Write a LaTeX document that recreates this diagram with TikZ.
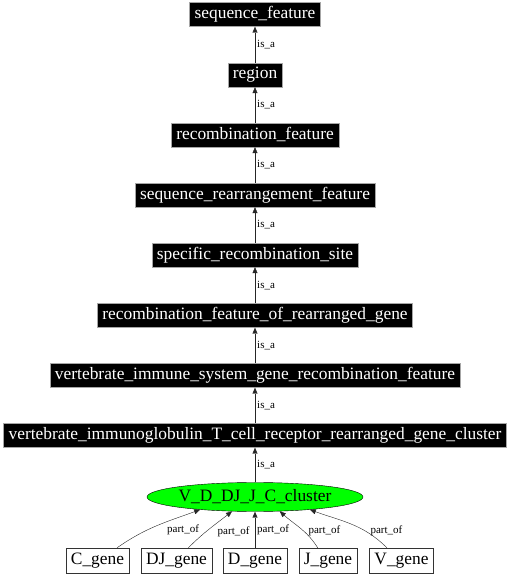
\documentclass[tikz,border=0pt]{standalone}
\usepackage{fontspec}
\setmainfont{Liberation Serif}
\usetikzlibrary{positioning,shapes.geometric,arrows.meta}
\tikzset{term/.style = {fill=black,text=white,draw=gray!70,minimum height=24pt,inner xsep=5pt,inner ysep=0pt,font=\fontsize{17.4}{20}\selectfont},
         gene/.style = {draw=black!80,fill=white,minimum height=25pt,inner xsep=5pt,inner ysep=0pt,font=\fontsize{17.4}{20}\selectfont},
         rel/.style = {draw=black!85,-{Triangle[length=6pt,width=5pt]}},
         lbl/.style = {font=\fontsize{11}{13}\selectfont,inner sep=1pt}}

\begin{document}
\begin{tikzpicture}[x=1pt,y=1pt]
        \useasboundingbox (0,0) rectangle (510,576);
        \node [term] (seqf) at (255,561.5) {sequence\_feature};
        \node [term] (region) at (255,501) {region};
        \node [term] (recf) at (255,441) {recombination\_feature};
        \node [term] (srf) at (255,381) {sequence\_rearrangement\_feature};
        \node [term] (srs) at (255,321) {specific\_recombination\_site};
        \node [term] (rfrg) at (255,260.5) {recombination\_feature\_of\_rearranged\_gene};
        \node [term] (visgrf) at (255,200.5) {vertebrate\_immune\_system\_gene\_recombination\_feature};
        \node [term] (vitcr) at (255,140.5) {vertebrate\_immunoglobulin\_T\_cell\_receptor\_rearranged\_gene\_cluster};
        \node [draw,ellipse,fill=green,minimum width=214pt,minimum height=29pt,inner sep=0pt,font=\fontsize{17.4}{20}\selectfont] (vdj) at (255,79) {V\_D\_DJ\_J\_C\_cluster};
        \node [gene] (cg) at (97.5,15.5) {C\_gene};
        \node [gene] (djg) at (176.5,15.5) {DJ\_gene};
        \node [gene] (dg) at (255,15.5) {D\_gene};
        \node [gene] (jg) at (328,15.5) {J\_gene};
        \node [gene] (vg) at (401.5,15.5) {V\_gene};
        % is_a chain
        \draw [rel] (region) -- node [lbl,right=1pt] {is\_a} (seqf);
        \draw [rel] (recf) -- node [lbl,right=1pt] {is\_a} (region);
        \draw [rel] (srf) -- node [lbl,right=1pt] {is\_a} (recf);
        \draw [rel] (srs) -- node [lbl,right=1pt] {is\_a} (srf);
        \draw [rel] (rfrg) -- node [lbl,right=1pt] {is\_a} (srs);
        \draw [rel] (visgrf) -- node [lbl,right=1pt] {is\_a} (rfrg);
        \draw [rel] (vitcr) -- node [lbl,right=1pt] {is\_a} (visgrf);
        \draw [rel] (vdj) -- node [lbl,right=1pt] {is\_a} (vitcr);
        % part_of
        \draw [rel] (cg.33) to[out=35,in=200] node [lbl,right=9pt,yshift=-4pt] {part\_of} (vdj.193);
        \draw [rel] (djg.47) to[out=45,in=218] node [lbl,right=7pt,yshift=-3pt] {part\_of} (vdj.212);
        \draw [rel] (dg) -- node [lbl,right=1pt] {part\_of} (vdj);
        \draw [rel] (jg.129) to[out=122,in=-42] node [lbl,right=7pt,yshift=-3pt] {part\_of} (vdj.330);
        \draw [rel] (vg.139) to[out=135,in=-20] node [lbl,right=18pt,yshift=-7pt] {part\_of} (vdj.347);
    \end{tikzpicture}
\end{document}
